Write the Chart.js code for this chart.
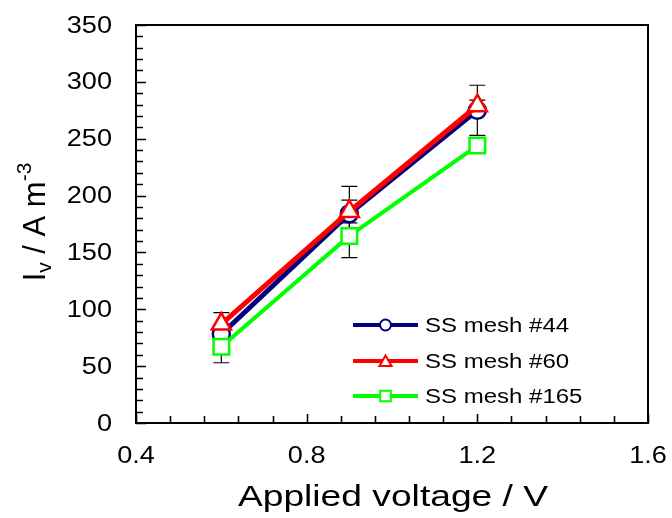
<!DOCTYPE html>
<html>
<head>
<meta charset="utf-8">
<script src="https://cdn.jsdelivr.net/npm/chart.js@4/dist/chart.umd.min.js"></script>
<style>
  html, body { margin: 0; padding: 0; background: #fff; }
  #wrap { width: 672px; height: 518px; }
</style>
</head>
<body>
<div id="wrap"><canvas id="c" width="672" height="518"></canvas></div>
<script>
// Applied voltage (V)
const voltages = [0.6, 0.9, 1.2];

// Volumetric current I_v (A m^-3) for each stainless-steel mesh
const mesh44 = [78, 184, 275];
const mesh60 = [87, 186, 279];
const mesh165 = [67, 164.5, 244];

// Symmetric error (± A m^-3) for each series
const mesh44Err = [6, 24, 22];
const mesh60Err = [10, 10, 5];
const mesh165Err = [14, 19, 7];

const seriesNames = ['SS mesh #44', 'SS mesh #60', 'SS mesh #165'];

// Axis ticks
const xTickLabels = [0.4, 0.8, 1.2, 1.6];
const yTickLabels = [0, 50, 100, 150, 200, 250, 300, 350];
const xMinorStep = 0.08;
const yMinorStep = 10;

const FONT = "'Liberation Sans', Arial, sans-serif";

const toPoints = ys => voltages.map((x, i) => ({ x: x, y: ys[i] }));

const styles = [
  { color: '#000080', shape: 'circle', r: 8.5, lw: 5, bw: 2.5 },
  { color: '#ff0000', shape: 'triangle', r: 11, lw: 5, bw: 2.5 },
  { color: '#00ff00', shape: 'rect', r: 11, lw: 4, bw: 2.5 }
];
const errs = [mesh44Err, mesh60Err, mesh165Err];

function drawMarker(ctx, shape, x, y, r, color, bw) {
  ctx.save();
  ctx.beginPath();
  if (shape === 'circle') {
    ctx.arc(x, y, r, 0, Math.PI * 2);
  } else if (shape === 'triangle') {
    const h = r * 1.5, w = r * Math.sqrt(3);
    ctx.moveTo(x, y - r);
    ctx.lineTo(x + w / 2, y - r + h);
    ctx.lineTo(x - w / 2, y - r + h);
    ctx.closePath();
  } else {
    const s = r * Math.SQRT1_2;
    ctx.rect(x - s, y - s, 2 * s, 2 * s);
  }
  ctx.fillStyle = '#ffffff';
  ctx.fill();
  ctx.lineWidth = bw;
  ctx.strokeStyle = color;
  ctx.stroke();
  ctx.restore();
}

// Text with a slight horizontal widening, as in the original figure
function wideText(ctx, text, x, y, size, sx, align, baseline) {
  ctx.save();
  ctx.translate(x, y);
  ctx.scale(sx, 1);
  ctx.font = size + 'px ' + FONT;
  ctx.textAlign = align;
  ctx.textBaseline = baseline;
  ctx.fillStyle = '#000';
  ctx.fillText(text, 0, 0);
  ctx.restore();
}

// Error bars behind the series
const errorBars = {
  id: 'errorBars',
  beforeDatasetsDraw(chart) {
    const { ctx, scales: { x, y } } = chart;
    ctx.save();
    ctx.strokeStyle = '#000';
    ctx.lineWidth = 1.2;
    chart.data.datasets.forEach((ds, di) => {
      ds.data.forEach((p, i) => {
        const e = errs[di][i];
        const px = x.getPixelForValue(p.x);
        const top = y.getPixelForValue(p.y + e);
        const bot = y.getPixelForValue(p.y - e);
        ctx.beginPath();
        ctx.moveTo(px, top); ctx.lineTo(px, bot);
        ctx.moveTo(px - 8, top); ctx.lineTo(px + 8, top);
        ctx.moveTo(px - 8, bot); ctx.lineTo(px + 8, bot);
        ctx.stroke();
      });
    });
    ctx.restore();
  }
};

// Frame, inward ticks, tick labels, axis titles and legend
const decorations = {
  id: 'decorations',
  afterDraw(chart) {
    const { ctx, chartArea: a, scales: { x, y } } = chart;
    ctx.save();
    ctx.strokeStyle = '#000';
    ctx.lineWidth = 2;
    ctx.strokeRect(a.left, a.top, a.right - a.left, a.bottom - a.top);

    // y ticks
    ctx.lineWidth = 1.6;
    ctx.beginPath();
    for (let v = 0; v <= 350 + 1e-6; v += yMinorStep) {
      const py = Math.round(y.getPixelForValue(v)) + 0.5;
      const major = Math.abs(v % 50) < 1e-6;
      ctx.moveTo(a.left, py);
      ctx.lineTo(a.left + (major ? 10 : 7), py);
    }
    // x ticks
    const n = Math.round((1.6 - 0.4) / xMinorStep);
    for (let k = 0; k <= n; k++) {
      const v = 0.4 + k * xMinorStep;
      const px = Math.round(x.getPixelForValue(v)) + 0.5;
      const major = k % 5 === 0;
      ctx.moveTo(px, a.bottom);
      ctx.lineTo(px, a.bottom - (major ? 9 : 7));
    }
    ctx.stroke();

    // tick labels
    yTickLabels.forEach(v => {
      wideText(ctx, String(v), a.left - 24, y.getPixelForValue(v) + 1, 24, 1.13, 'right', 'middle');
    });
    xTickLabels.forEach(v => {
      wideText(ctx, v.toFixed(1), x.getPixelForValue(v), a.bottom + 33, 24, 1.13, 'center', 'middle');
    });

    // x axis title
    wideText(ctx, 'Applied voltage / V', (a.left + a.right) / 2 + 1, 498, 30, 1.24, 'center', 'middle');

    // y axis title: I_v / A m^-3
    ctx.fillStyle = '#000';
    ctx.textBaseline = 'alphabetic';
    ctx.textAlign = 'left';
    const big = '31px ' + FONT, small = '21px ' + FONT;
    const parts = [
      { t: 'I', f: big, dy: 0 },
      { t: 'v', f: small, dy: 6 },
      { t: ' / A m', f: big, dy: 0 },
      { t: '-3', f: small, dy: -14 }
    ];
    let total = 0;
    parts.forEach(p => { ctx.font = p.f; p.w = ctx.measureText(p.t).width; total += p.w; });
    ctx.translate(45, 222);
    ctx.rotate(-Math.PI / 2);
    let cx = -total / 2;
    parts.forEach(p => {
      ctx.font = p.f;
      ctx.fillText(p.t, cx, p.dy);
      cx += p.w;
    });
    ctx.setTransform(1, 0, 0, 1, 0, 0);

    // legend
    const rows = [325, 361, 396];
    const lx0 = 353, lx1 = 418, tx = 425;
    chart.data.datasets.forEach((ds, i) => {
      const st = styles[i];
      const ry = rows[i];
      ctx.beginPath();
      ctx.strokeStyle = st.color;
      ctx.lineWidth = 4;
      ctx.moveTo(lx0, ry); ctx.lineTo(lx1, ry);
      ctx.stroke();
      const lr = st.shape === 'triangle' ? 7 : (st.shape === 'rect' ? 7.5 : 5.5);
      drawMarker(ctx, st.shape, (lx0 + lx1) / 2, ry + (st.shape === 'triangle' ? 1.5 : 0), lr, st.color, 2);
      wideText(ctx, ds.label, tx, ry + 1, 20, 1.2, 'left', 'middle');
    });
    ctx.restore();
  }
};

const datasets = [mesh44, mesh60, mesh165].map((ys, i) => ({
  label: seriesNames[i],
  data: toPoints(ys),
  showLine: true,
  borderColor: styles[i].color,
  borderWidth: styles[i].lw,
  backgroundColor: '#ffffff',
  pointStyle: styles[i].shape,
  pointRadius: styles[i].r,
  pointHoverRadius: styles[i].r,
  pointBorderWidth: styles[i].bw,
  pointBorderColor: styles[i].color,
  pointBackgroundColor: '#ffffff',
  order: 3 - i,
  tension: 0
}));

new Chart(document.getElementById('c'), {
  type: 'scatter',
  data: { datasets },
  options: {
    responsive: false,
    animation: false,
    devicePixelRatio: 1,
    layout: { padding: { top: 25, right: 24, left: 0, bottom: 0 } },
    plugins: { legend: { display: false }, tooltip: { enabled: false } },
    scales: {
      x: {
        type: 'linear',
        min: xTickLabels[0],
        max: xTickLabels[xTickLabels.length - 1],
        ticks: { display: false },
        grid: { display: false, drawTicks: false },
        border: { display: true, color: '#000', width: 2 },
        afterFit: s => { s.height = 95; }
      },
      y: {
        type: 'linear',
        min: yTickLabels[0],
        max: yTickLabels[yTickLabels.length - 1],
        ticks: { display: false },
        grid: { display: false, drawTicks: false },
        border: { display: true, color: '#000', width: 2 },
        afterFit: s => { s.width = 136; }
      }
    }
  },
  plugins: [errorBars, decorations]
});
</script>
</body>
</html>
